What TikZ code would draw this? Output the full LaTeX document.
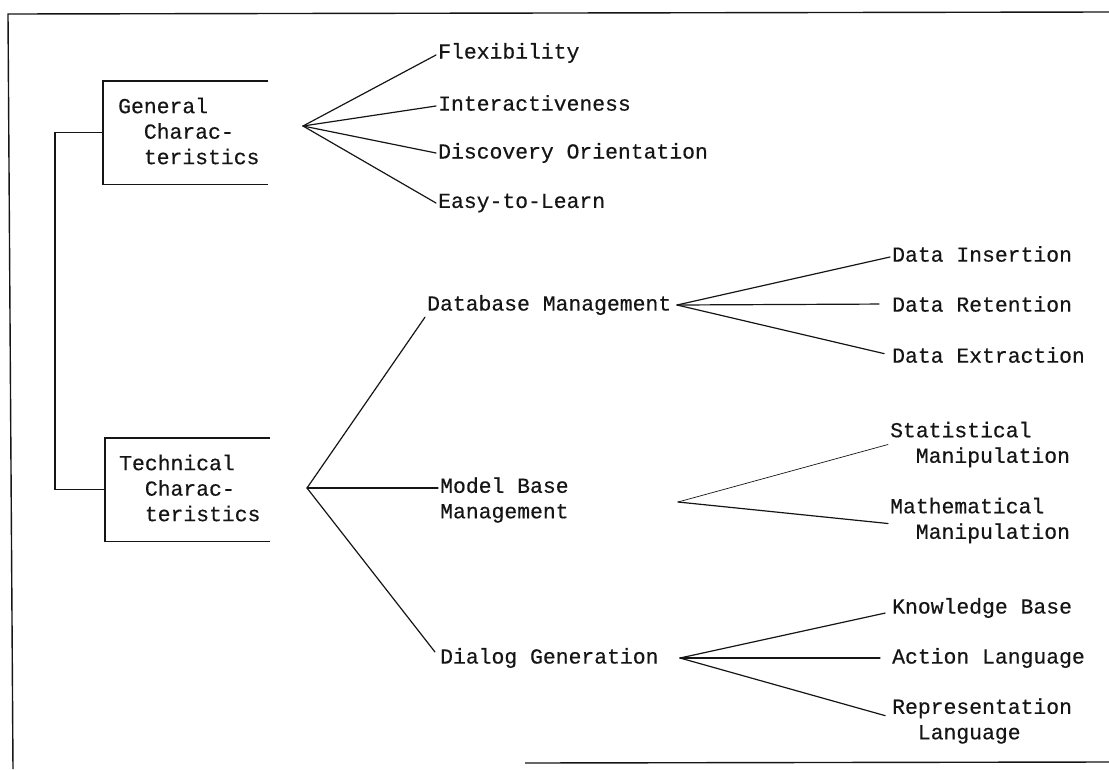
\documentclass[tikz,border=0pt]{standalone}
\usepackage{fontspec}
\usepackage{tikz}
\usetikzlibrary{positioning, calc}
\newfontfamily\typewriter[FakeBold=0.4]{Liberation Mono}
\definecolor{inkblack}{HTML}{151515}
\newcommand{\twoch}{\hspace*{1.2em}}

\tikzset{
  label text/.style={font=\typewriter\fontsize{21.4}{25.5}\selectfont, text=inkblack,
    inner sep=2pt, anchor=west, align=left},
  branch/.style={draw=inkblack, line width=1.2pt, line cap=round},
  frame line/.style={draw=inkblack, line width=1.4pt},
  open box/.style={minimum width=165pt, minimum height=103pt, inner sep=0pt, anchor=north west},
}

\begin{document}
\begin{tikzpicture}[x=1pt, y=-1pt]
  \useasboundingbox (0,0) rectangle (1109,769);

  % Page frame
  \draw[frame line] (1109,12) -- (8,14) -- (13,769);
  \draw[frame line] (525,763) -- (1109,762);

  % Open boxes for the two groups
  \node[open box] (genbox) at (103,81) {};
  \node[open box] (techbox) at (105,438) {};
  \draw[frame line] (genbox.north east) -- (genbox.north west) -- (genbox.south west) -- (genbox.south east);
  \draw[frame line] (techbox.north east) -- (techbox.north west) -- (techbox.south west) -- (techbox.south east);
  \node[label text] (gen) at (116,131) {General\\\twoch Charac-\\\twoch teristics};
  \node[label text] (tech) at (117,488) {Technical\\\twoch Charac-\\\twoch teristics};

  % Bracket
  \draw[frame line] (genbox.west) -- ++(-48,0) |- (techbox.west);

  % General characteristics
  \coordinate (genfan) at (303,126);
  \node[label text] (flex) at (436,53) {Flexibility};
  \node[label text] (inter) at (436,103) {Interactiveness};
  \node[label text] (disc) at (436,153) {Discovery Orientation};
  \node[label text] (easy) at (436,203) {Easy-to-Learn};
  \draw[branch] (genfan) -- ([yshift=-2pt]flex.west);
  \draw[branch] (genfan) -- ([yshift=-3pt]inter.west);
  \draw[branch] (genfan) -- (disc.west);
  \draw[branch] (genfan) -- (easy.west);

  % Technical characteristics
  \coordinate (techfan) at (307,488);
  \node[label text] (db) at (425,305) {Database Management};
  \node[label text] (model) at (438,500) {Model Base\\Management};
  \node[label text] (dialog) at (438,658) {Dialog Generation};
  \draw[branch] (techfan) -- (db.south west);
  \draw[branch] (techfan) -- (techfan -| model.west);
  \draw[branch] (techfan) -- ([shift={(-3pt,6pt)}]dialog.west);

  % Database management
  \coordinate (dbfan) at (677,305);
  \node[label text] (ins) at (890,254) {Data Insertion};
  \node[label text] (ret) at (890,304) {Data Retention};
  \node[label text] (ext) at (890,355) {Data Extraction};
  \draw[branch] (dbfan) -- ([yshift=-3pt]ins.west);
  \draw[branch, shorten >=11pt] (dbfan) -- (ret.west);
  \draw[branch, shorten >=6pt] (dbfan) -- (ext.west);

  % Model base management
  \coordinate (modfan) at (678,502);
  \node[label text] (stat) at (888,444.5) {Statistical\\\twoch Manipulation};
  \node[label text] (math) at (888,520.5) {Mathematical\\\twoch Manipulation};
  \draw[branch, line width=0.7pt] (modfan) -- (stat.west);
  \draw[branch] (modfan) -- ([yshift=-3pt]math.west);

  % Dialog generation
  \coordinate (dlgfan) at (680,658);
  \node[label text] (know) at (890,608) {Knowledge Base};
  \node[label text] (act) at (890,658) {Action Language};
  \node[label text] (repr) at (890,721) {Representation\\\twoch Language};
  \draw[branch, shorten >=5pt] (dlgfan) -- ([yshift=-4pt]know.west);
  \draw[branch, shorten >=10pt] (dlgfan) -- (act.west);
  \draw[branch, shorten >=5pt] (dlgfan) -- ([yshift=4pt]repr.west);
\end{tikzpicture}
\end{document}
